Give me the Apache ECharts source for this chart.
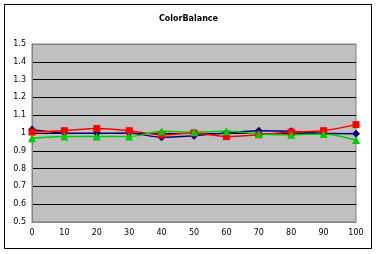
<!DOCTYPE html>
<html>
<head>
<meta charset="utf-8">
<script src="https://cdn.jsdelivr.net/npm/echarts@6/dist/echarts.min.js"></script>
<style>html,body{margin:0;padding:0;background:#fff;}#c{width:377px;height:254px;}</style>
</head>
<body>
<div id="c"></div>
<script>
var xValues = [0, 10, 20, 30, 40, 50, 60, 70, 80, 90, 100];
var blueSeries = [1.02, 1.0, 0.998, 1.0, 0.976, 0.985, 1.0, 1.013, 1.01, 0.998, 0.996];
var redSeries = [1.005, 1.013, 1.025, 1.013, 0.99, 1.0, 0.98, 0.99, 1.005, 1.013, 1.047];
var greenSeries = [0.97, 0.98, 0.98, 0.98, 1.01, 1.005, 1.01, 0.995, 0.99, 0.995, 0.96];
var titleText = 'ColorBalance';

function pairs(vals) { return xValues.map(function (x, i) { return [x, vals[i]]; }); }

var splitColors = ['#808080'];
for (var i = 0; i < 9; i++) splitColors.push('#000000');
splitColors.push('#808080');

var chart = echarts.init(document.getElementById('c'), null, {renderer: 'canvas'});
chart.setOption({
  animation: false,
  title: {
    text: titleText, left: 'center', top: 10,
    textStyle: {fontFamily: 'DejaVu Sans', fontSize: 8, fontWeight: 'bold', color: '#000'}
  },
  graphic: [{
    type: 'rect', shape: {x: 4.5, y: 4.5, width: 367, height: 244},
    style: {fill: 'none', stroke: '#000', lineWidth: 1}, z: -10
  }],
  grid: {left: 32, right: 21, top: 44, bottom: 32, show: true, backgroundColor: '#c0c0c0', borderColor: '#808080', borderWidth: 1},
  xAxis: {
    type: 'value', min: 0, max: 100, interval: 10,
    axisLine: {show: true, lineStyle: {color: '#808080'}},
    axisTick: {show: false},
    splitLine: {show: false},
    axisLabel: {margin: 7, fontFamily: 'DejaVu Sans', fontSize: 8, color: '#000'}
  },
  yAxis: {
    type: 'value', min: 0.5, max: 1.5, interval: 0.1,
    axisLine: {show: true, lineStyle: {color: '#808080'}},
    axisTick: {show: false},
    splitLine: {show: true, lineStyle: {color: splitColors, width: 1}},
    axisLabel: {margin: 6, fontFamily: 'DejaVu Sans', fontSize: 8, color: '#000',
      formatter: function (v) { return String(Math.round(v * 10) / 10); }}
  },
  series: [
    {type: 'line', data: pairs(blueSeries), smooth: 0.3, symbol: 'diamond', symbolSize: 8,
      lineStyle: {color: '#000080', width: 1.5}, itemStyle: {color: '#000080'}},
    {type: 'line', data: pairs(redSeries), smooth: 0.3, symbol: 'rect', symbolSize: 7,
      lineStyle: {color: '#ff0000', width: 1.5}, itemStyle: {color: '#ff0000'}},
    {type: 'line', data: pairs(greenSeries), smooth: 0.3, symbol: 'triangle', symbolSize: 8,
      lineStyle: {color: '#00cc00', width: 1.5}, itemStyle: {color: '#00cc00'}}
  ]
});
</script>
</body>
</html>
